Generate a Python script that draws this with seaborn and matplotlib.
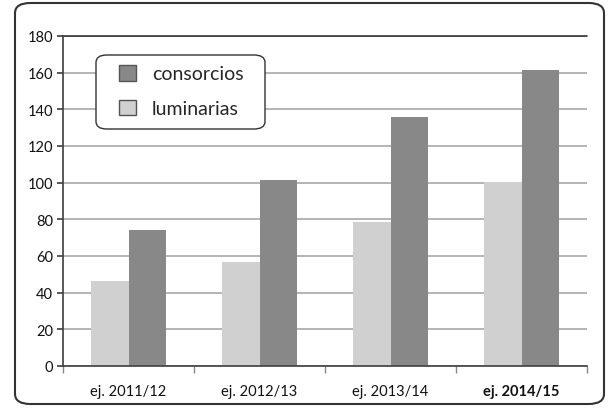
import matplotlib
matplotlib.use("Agg")
import matplotlib.pyplot as plt
import seaborn as sns
import pandas as pd
from matplotlib.patches import FancyBboxPatch, Patch

categories = ["ej. 2011/12", "ej. 2012/13", "ej. 2013/14", "ej. 2014/15"]
luminarias = [46.4, 56.8, 78.3, 100.1]
consorcios = [74.4, 101.6, 136.0, 161.6]
series_names = ["luminarias", "consorcios"]
colors = {"luminarias": "#d0d0d0", "consorcios": "#888888"}

df = pd.DataFrame({
    "cat": categories * 2,
    "serie": ["luminarias"] * 4 + ["consorcios"] * 4,
    "val": luminarias + consorcios,
})

sns.set_theme(style="white")
plt.rcParams['font.family'] = ['Lato', 'DejaVu Sans']

W, H = 608, 410
fig = plt.figure(figsize=(W/100, H/100), dpi=100)
ax = fig.add_axes([63/W, 1 - 367/H, (587-63)/W, (367-37)/H])

sns.barplot(data=df, x="cat", y="val", hue="serie", hue_order=series_names,
            palette=colors, width=0.58, ax=ax, saturation=1, linewidth=0,
            legend=False, errorbar=None)

ax.set_ylim(0, 180)
ax.set_xlim(-0.5, 3.5)
ax.set_yticks(range(0, 181, 20))
ax.set_yticklabels([str(v) for v in range(0, 181, 20)], fontsize=10.5, color="#111111")
ax.set_xticks(range(4))
ax.set_xticklabels(categories, fontsize=10.5, color="#111111")
ax.get_xticklabels()[-1].set_fontweight("bold")
ax.set_xlabel("")
ax.set_ylabel("")
ax.yaxis.grid(True, color="#a8a8a8", linewidth=1.2)
ax.set_axisbelow(True)
ax.spines["right"].set_visible(False)
ax.spines["top"].set_visible(False)
ax.spines["left"].set_color("#444444")
ax.spines["bottom"].set_color("#444444")
ax.tick_params(axis="y", which="major", left=True, length=4, color="#444444", pad=3)
ax.tick_params(axis="x", which="major", bottom=False, pad=7)
ax.set_xticks([-0.5, 0.5, 1.5, 2.5, 3.5], minor=True)
ax.tick_params(axis="x", which="minor", bottom=True, length=5, color="#888888")
ax.axhline(180, color="#333333", linewidth=1.2, clip_on=False)

# legend frame (drawn separately for exact padding)
legframe = FancyBboxPatch((96/W, 1 - 130/H), (265-96)/W, (130-56)/H,
                          boxstyle="round,pad=0,rounding_size=0.018",
                          transform=fig.transFigure, facecolor="white",
                          edgecolor="#333333", linewidth=1.0, zorder=5)
fig.patches.append(legframe)

handles = [Patch(facecolor=colors["consorcios"], edgecolor="#555555", label="consorcios"),
           Patch(facecolor=colors["luminarias"], edgecolor="#555555", label="luminarias")]
leg = fig.legend(handles=handles, loc="upper left",
                 bbox_to_anchor=(119/W, 1 - 66/H), bbox_transform=fig.transFigure,
                 fontsize=14, frameon=False, handlelength=0.85,
                 handleheight=0.85, handletextpad=0.85, borderpad=0,
                 labelspacing=0.9, borderaxespad=0)
leg.set_zorder(6)

border = FancyBboxPatch((15/W, 5/H), (604-15)/W, (406-5)/H,
                        boxstyle="round,pad=0,rounding_size=0.025",
                        transform=fig.transFigure, facecolor="none",
                        edgecolor="#333333", linewidth=1.5)
fig.patches.append(border)

fig.savefig("out.png", dpi=100)
